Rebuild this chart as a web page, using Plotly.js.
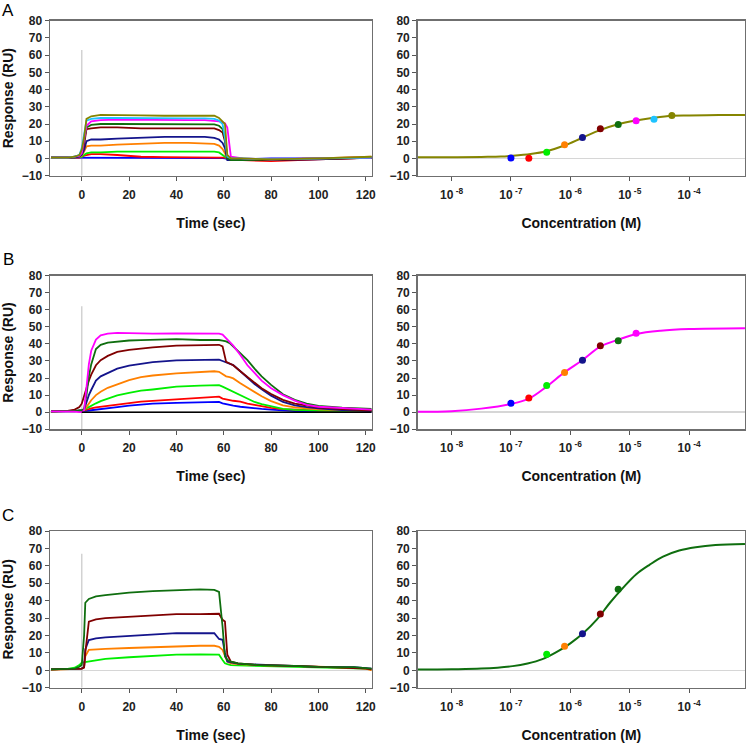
<!DOCTYPE html>
<html>
<head>
<meta charset="utf-8">
<script src="https://cdn.plot.ly/plotly-3.0.1.min.js"></script>
<style>
  body { margin: 0; background: #fff; }
  #chart { width: 750px; height: 745px; }
</style>
</head>
<body>
<div id="chart"></div>
<script>
// colours of the concentration series (low -> high)
const seriesColors = {
    blue: '#0000ff', red: '#ff0000', green: '#00ee00', orange: '#ff8000',
    navy: '#14148c', darkred: '#800000', darkgreen: '#0f6e0f',
    magenta: '#ff00ff', cyan: '#1ec3ff', olive: '#858500', black: '#000000'
};

// ---- Panel A sensorgram ----
const timeA = [-13, -6, -3, -1, 0, 1, 2, 4, 8, 15, 25, 35, 45, 52, 56, 58, 59.5, 60.5, 61.5, 63, 68, 80, 100, 115, 122.5];
const sensorA = {
    blue:      [0.5,0.5,0.5,0.5,0.5,0.5,0.5,0.5,0.5,0.3,0.2,0.2,0.2,0.2,0.2,0.2,0.2,0,-0.5,-1,-0.5,0,0,0.2,0.5],
    red:       [0.5,0.5,0.5,0.5,1,1.5,2,2.5,2.5,2,1,0.8,0.5,0.5,0.5,0.5,0.5,0.5,0,-1,-1,-1.5,-0.5,0,0.5],
    green:     [0.5,0.5,0.5,1,1,2,3,3.5,3.5,4,4,4,4,4,4,3.5,2,1,0,0,-0.5,-0.5,0,0.5,0.5],
    orange:    [0.5,0.5,0.5,1,1.5,4,7,7.5,7.5,8,8.5,9,9,8.5,8.5,7.5,5.5,3,0,-0.5,-0.5,-0.5,0,0.5,1],
    navy:      [0.5,0.5,0.5,1,2,5,10,11,11,11.5,12,12.5,12.5,12.5,12,11,9,6,-1,-1,-1,-1,-0.5,0,0.5],
    darkred:   [0.5,0.5,1,1.5,3,8,17,17.5,18,18,17.5,17.5,17.5,17.5,17.5,16.5,15,10,0.5,-0.5,-1,-1,-0.5,0,0.5],
    darkgreen: [0.5,0.5,1,2,3,10,18,19.5,20,20,20,20,20,20,19.8,19,17,12,0,-1,-1,-0.5,0,0.3,0.5],
    magenta:   [0.5,0.5,1,1.5,3,10,19,21.5,22.3,22.5,22.3,22.3,22.3,22.3,22,21.5,21,20.5,18,1,0,-0.5,0,0.5,0.3],
    cyan:      [0.5,0.5,1,2,6,15,22,23,23.5,23.5,23.3,23.3,23.3,23.3,23,22,20,12,1,0,0,-0.5,0,0.3,0.5],
    olive:     [0.5,0.5,1,2,5,12,23,24.5,25.3,25.3,25,24.8,24.8,25,24.8,23.5,21,20,2,0,0,-0.5,0,0.5,1]
};

// ---- Panel B sensorgram ----
const timeB = [-13, -6, -3, -1, 0, 1, 2, 3, 4, 6, 8, 11, 15, 20, 25, 30, 40, 50, 56, 58, 59.5, 61, 62.5, 64, 67, 70, 73, 76, 80, 85, 90, 95, 100, 110, 122.5];
const sensorB = {
    blue:      [0.5,0.5,0.5,0.5,0.5,0.6,0.8,1,1.2,1.6,1.9,2.3,3,3.8,4.6,5,5.5,5.8,6,6,5.2,4.6,4.2,3.8,3.2,2.7,2.2,1.9,1.5,1,0.6,0.5,0.4,0.3,0.2],
    red:       [0.5,0.5,0.5,0.5,0.8,1,1.5,2,2.3,2.8,3.2,3.8,4.6,5.5,6.2,6.6,7.6,8.3,9,9.1,8,7.5,7,6.7,6.2,5,4.3,3.5,2.5,1.8,1.4,1.2,1,0.8,0.6],
    green:     [0.5,0.5,0.5,0.5,0.8,1,2.3,3,3.8,5.2,6.5,8,9.8,11.3,12.6,13.3,15,15.6,15.9,15.9,15,14,13,12,10,7.8,6,4.8,3.4,2,1.4,1.1,1,0.8,0.6],
    orange:    [0.5,0.5,0.5,0.8,1,1.5,3,5,7,10,12,14.3,16.5,18.8,20.5,21.5,22.7,23.5,24,23.7,22.5,21,20.5,19.8,17,14.5,11.5,9.3,6.5,4,2.8,2.2,1.7,1.2,0.6],
    navy:      [0.5,0.5,0.5,1,1,1.5,6,10,13,18.5,21,23,25.5,27.3,28.5,29.3,30.4,30.8,30.9,30.8,30,29.3,28.5,27.6,24,20.3,16.5,13.5,9.7,6,4,3,2.2,1.2,0.6],
    darkred:   [0.5,0.8,1.5,3,5,9,14,18.5,22,27.5,30.5,33,35.3,36.5,37.4,38,39,39.2,39.5,39.5,38.5,29.5,28.5,27.5,24,20.5,17,14,10.7,7.2,5,3.8,2.8,1.8,1],
    darkgreen: [0.5,0.5,0.8,1,1,2,10,21,28,37,39.5,40.8,41.5,42,42.2,42.3,42.8,42.3,42.5,42.3,42,41.5,40.5,38.5,34.5,30.5,25.5,21,16,10.5,7.2,5,3.7,2.6,2],
    magenta:   [0.5,0.5,0.3,0,0,1,15,28,36,42.5,45,46,46.5,46.2,46,46,46.2,46,46.2,46,45.5,43.5,41.5,39,33.5,27.5,23,18.5,14,10,6.8,4.3,3.2,2.3,1.5]
};
const baselineTimeB = [0, 122.5];
const baselineB = [0, 0];

// ---- Panel C sensorgram ----
const timeC = [-13, -6, -3, -1, 0, 1, 1.5, 3, 6, 10, 20, 30, 40, 50, 56, 58, 59.5, 60.5, 61.5, 63, 66, 75, 90, 100, 115, 120, 122.5];
const sensorC = {
    green:     [0.5,0.8,1.5,3,4.4,4.6,4.8,5.2,6,6.6,7.5,8.4,9,9.2,9.2,9,5.9,4,3.5,3,2.8,2.5,2.2,2,1.5,1,0.5],
    orange:    [0.3,0.5,0.5,0.8,1,2,8,11.7,12,12.3,12.8,13.2,14,14.1,14.1,13.5,11.7,8,5,4,3.5,3,2.5,2,1.5,1,0],
    navy:      [0.5,0.8,1,1,1,2,12,17.4,18.3,18.9,19.8,20.3,21.3,21.3,21.3,18,17.5,10,5,4.5,3.8,3.2,2.5,2,1.8,1.5,1],
    darkred:   [0.5,0.8,1,1,1,1.5,10,28,29.3,30,30.8,31.5,32.3,32.3,32.3,32.5,29,28,9,5,4,3,2.5,2,1.5,1,0.5],
    darkgreen: [0.5,0.8,1,2,3,20,38.8,41,42.5,43.2,44.6,45.5,46.2,46.5,46.2,45,25,8,6,5,4,3,2.5,2,1.8,1.5,1]
};

// injection marker (grey line at t = 0), top value per panel
const injectTop = [63, 62, 67];

// ---- dose-response (steady state) ----
const concA = [1e-7, 2e-7, 4e-7, 8e-7, 1.6e-6, 3.2e-6, 6.4e-6, 1.28e-5, 2.56e-5, 5.12e-5];
const respA = [0.3, 0.1, 3.6, 7.9, 12.2, 17.2, 19.7, 21.9, 22.8, 25];
const colorsA = ['blue','red','green','orange','navy','darkred','darkgreen','magenta','cyan','olive'];

const concB = [1e-7, 2e-7, 4e-7, 8e-7, 1.6e-6, 3.2e-6, 6.4e-6, 1.28e-5];
const respB = [5.2, 8.3, 15.6, 23.3, 30.4, 39, 41.9, 46.2];
const colorsB = ['blue','red','green','orange','navy','darkred','darkgreen','magenta'];

const concC = [4e-7, 8e-7, 1.6e-6, 3.2e-6, 6.4e-6];
const respC = [9.2, 13.8, 21, 32.4, 46.5];
const colorsC = ['green','orange','navy','darkred','darkgreen'];

// fitted curves (log10 of concentration)
const fitLogA = [-8.57, -8, -7.5, -7.17, -7, -6.67, -6.4, -6.1, -5.8, -5.49, -5.21, -4.9, -4.6, -4.29, -4, -3.5, -3.06];
const fitA    = [0.7, 0.7, 0.9, 1.1, 1.5, 2.6, 4.2, 7.5, 12, 16.6, 19.7, 22, 23.6, 24.8, 25, 25.2, 25.2];
const fitLogB = [-8.57, -8, -7.5, -7, -6.7, -6.4, -6.1, -5.8, -5.49, -5.19, -4.89, -4.48, -4, -3.06];
const fitB    = [0.2, 0.6, 2.1, 4.8, 7.9, 15, 23.3, 30.4, 38.5, 42.5, 45.8, 47.7, 48.7, 49.2];
const fitLogC = [-8.57, -8, -7.5, -6.97, -6.72, -6.47, -6.22, -6.0, -5.78, -5.555, -5.333, -5.11, -4.89, -4.667, -4.44, -4.167, -3.89, -3.556, -3.06];
const fitC    = [0.4, 0.6, 1, 2.4, 3.9, 6.4, 10.7, 15.5, 21.4, 29.1, 38.8, 47.5, 55.2, 60.6, 65.3, 68.8, 70.7, 72, 72.6];

const logTickVals = [1e-8, 1e-7, 1e-6, 1e-5, 1e-4];
const logTickText = ['10<sup> -8</sup>', '10<sup> -7</sup>', '10<sup> -6</sup>', '10<sup> -5</sup>', '10<sup> -4</sup>'];
const panelLetters = ['A', 'B', 'C'];

const FONT = 'Liberation Sans, Arial, sans-serif';
const traces = [];

// left column: sensorgrams
function addSensorgram(time, series, row) {
    const ax = row === 0 ? '' : String(row * 2 + 1);
    traces.push({
        x: [0, 0], y: [-10, injectTop[row]], xaxis: 'x' + ax, yaxis: 'y' + ax,
        mode: 'lines', line: {color: '#d2d2d2', width: 1.5}, hoverinfo: 'skip'
    });
    Object.keys(series).forEach(name => {
        traces.push({
            x: time, y: series[name], xaxis: 'x' + ax, yaxis: 'y' + ax,
            mode: 'lines', line: {color: seriesColors[name], width: 1.8}, name: name
        });
    });
}

// right column: fitted curve + measured points
function addDoseResponse(fitLog, fit, conc, resp, colors, lineColor, row) {
    const ax = String(row * 2 + 2);
    traces.push({
        x: fitLog.map(v => Math.pow(10, v)), y: fit, xaxis: 'x' + ax, yaxis: 'y' + ax,
        mode: 'lines', line: {color: lineColor, width: 2, shape: 'spline'}
    });
    traces.push({
        x: conc, y: resp, xaxis: 'x' + ax, yaxis: 'y' + ax, mode: 'markers',
        marker: {color: colors.map(c => seriesColors[c]), size: 7, symbol: 'circle'}
    });
}

addSensorgram(timeA, sensorA, 0);
addSensorgram(timeB, sensorB, 1);
traces.push({x: baselineTimeB, y: baselineB, xaxis: 'x3', yaxis: 'y3', mode: 'lines',
    line: {color: seriesColors.black, width: 1.6}});
addSensorgram(timeC, sensorC, 2);

addDoseResponse(fitLogA, fitA, concA, respA, colorsA, seriesColors.olive, 0);
addDoseResponse(fitLogB, fitB, concB, respB, colorsB, seriesColors.magenta, 1);
addDoseResponse(fitLogC, fitC, concC, respC, colorsC, seriesColors.darkgreen, 2);

const rowDomains = [[0.7642, 0.9722], [0.4238, 0.6300], [0.0769, 0.2872]];
const leftDomain = [0.0667, 0.4956];
const rightDomain = [0.5569, 0.9933];

const baseAxis = {
    showline: true, mirror: true, linecolor: '#6f6f6f', linewidth: 1.5,
    ticks: 'outside', ticklen: 4, tickcolor: '#555', tickwidth: 1,
    showgrid: false, zeroline: false, automargin: false,
    tickfont: {family: FONT, size: 12, color: '#222', weight: 'bold'}
};
const titleFont = {family: FONT, size: 14, color: '#111', weight: 'bold'};

const layout = {
    width: 750, height: 745,
    margin: {l: 0, r: 0, t: 0, b: 0},
    paper_bgcolor: '#fff', plot_bgcolor: '#fff',
    showlegend: false,
    annotations: []
};

rowDomains.forEach((dom, row) => {
    const l = row * 2 + 1, r = row * 2 + 2;
    const ln = l === 1 ? '' : String(l);
    layout['xaxis' + ln] = Object.assign({}, baseAxis, {
        domain: leftDomain, anchor: 'y' + ln, range: [-13.4, 122.5],
        tickvals: [0, 20, 40, 60, 80, 100, 120], ticklabelstandoff: 3,
        title: {text: 'Time (sec)', font: titleFont, standoff: 17}
    });
    layout['yaxis' + ln] = Object.assign({}, baseAxis, {
        domain: dom, anchor: 'x' + ln, range: [-10, 80], dtick: 10,
        zeroline: true, zerolinecolor: '#d6d6d6', zerolinewidth: 1.5,
        title: {text: 'Response (RU)', font: titleFont, standoff: 8}
    });
    layout['xaxis' + r] = Object.assign({}, baseAxis, {
        domain: rightDomain, anchor: 'y' + r, type: 'log', range: [-8.57, -3.06],
        tickvals: logTickVals, ticktext: logTickText, ticklabelstandoff: 3,
        title: {text: 'Concentration (M)', font: titleFont, standoff: 17}
    });
    layout['yaxis' + r] = Object.assign({}, baseAxis, {
        domain: dom, anchor: 'x' + r, range: [-10, 80], dtick: 10,
        zeroline: true, zerolinecolor: '#d6d6d6', zerolinewidth: 1.5
    });
    layout.annotations.push({
        text: panelLetters[row], xref: 'paper', yref: 'paper', showarrow: false,
        x: 0.011, y: [0.986, 0.6523, 0.3074][row], xanchor: 'center', yanchor: 'middle',
        font: {family: FONT, size: 17, color: '#000'}
    });
});

Plotly.newPlot('chart', traces, layout, {displayModeBar: false, staticPlot: true});
</script>
</body>
</html>
